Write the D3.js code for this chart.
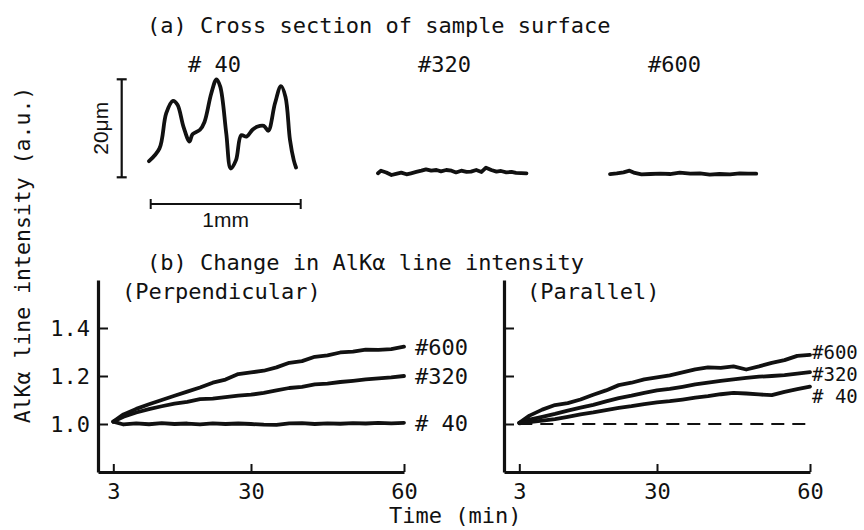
<!DOCTYPE html>
<html>
<head>
<meta charset="utf-8">
<script src="https://cdn.jsdelivr.net/npm/d3@7/dist/d3.min.js"></script>
<style>
  body { margin: 0; background: #fff; }
  svg text { font-family: "DejaVu Sans Mono", monospace; fill: #111; }
</style>
</head>
<body>
<div id="chart"></div>
<script>
// --- 1. DATA ---
// (a) surface profiles: [position (mm), height (um)]
const profile40 = [
    [0.00, 3.3], [0.07, 5.9], [0.115, 13.1], [0.16, 15.6], [0.19, 14.8], [0.23, 10.3],
    [0.27, 7.3], [0.29, 8.8], [0.34, 9.7], [0.37, 11.3], [0.415, 17.1], [0.45, 20.0],
    [0.475, 18.5], [0.515, 9.0], [0.545, 1.8], [0.58, 3.5], [0.615, 8.6], [0.65, 8.3],
    [0.69, 9.7], [0.72, 10.3], [0.765, 10.5], [0.795, 9.5], [0.84, 15.1], [0.88, 18.6],
    [0.91, 16.4], [0.94, 7.6], [0.965, 3.5], [0.98, 2.0]
];
const profile320 = [
    [0.00, 0.82], [0.02, 1.35], [0.055, 0.99], [0.09, 0.47], [0.12, 0.69], [0.155, 0.96],
    [0.19, 0.61], [0.22, 0.82], [0.255, 1.09], [0.29, 1.35], [0.32, 1.63], [0.355, 1.35],
    [0.39, 1.49], [0.42, 1.22], [0.455, 1.49], [0.49, 1.35], [0.52, 0.99], [0.555, 1.35],
    [0.59, 1.09], [0.62, 1.16], [0.655, 1.49], [0.69, 1.09], [0.72, 1.96], [0.755, 1.49],
    [0.79, 1.16], [0.82, 1.29], [0.855, 1.02], [0.89, 1.09], [0.92, 0.89], [0.99, 0.82]
];
const profile600 = [
    [0.00, 0.67], [0.045, 0.82], [0.09, 1.02], [0.13, 1.35], [0.165, 0.88], [0.21, 0.61],
    [0.27, 0.67], [0.335, 0.73], [0.40, 0.67], [0.465, 0.94], [0.535, 0.73], [0.60, 0.82],
    [0.665, 0.54], [0.73, 0.67], [0.80, 0.61], [0.865, 0.82], [0.92, 0.73], [0.975, 0.73]
];
const profileNames = ["# 40", "#320", "#600"];

// (b) Al Ka intensity vs time (min)
const times = [3, 5, 7.5, 10, 12.5, 15, 17.5, 20, 22.5, 25, 27.5, 30,
               32.5, 35, 37.5, 40, 42.5, 45, 47.5, 50, 52.5, 55, 57.5, 60];
const perp600 = [1.010, 1.040, 1.063, 1.082, 1.100, 1.118, 1.135, 1.152, 1.172, 1.185, 1.208, 1.215,
                 1.222, 1.236, 1.255, 1.262, 1.280, 1.286, 1.298, 1.302, 1.310, 1.309, 1.312, 1.322];
const perp320 = [1.010, 1.030, 1.048, 1.062, 1.074, 1.085, 1.092, 1.104, 1.106, 1.112, 1.118, 1.122,
                 1.130, 1.140, 1.150, 1.155, 1.165, 1.168, 1.175, 1.180, 1.186, 1.190, 1.194, 1.200];
const perp40  = [1.010, 0.998, 1.003, 0.999, 1.004, 1.000, 1.002, 0.998, 1.003, 1.000, 1.002, 1.000,
                 0.997, 0.996, 1.003, 1.004, 1.000, 1.003, 1.001, 1.004, 1.002, 1.005, 1.003, 1.005];
const para600 = [1.005, 1.035, 1.060, 1.079, 1.087, 1.102, 1.122, 1.140, 1.162, 1.172, 1.186, 1.194,
                 1.203, 1.215, 1.228, 1.236, 1.234, 1.240, 1.227, 1.240, 1.255, 1.266, 1.284, 1.288];
const para320 = [1.005, 1.018, 1.030, 1.042, 1.056, 1.068, 1.080, 1.094, 1.108, 1.118, 1.130, 1.140,
                 1.146, 1.155, 1.165, 1.172, 1.180, 1.186, 1.192, 1.197, 1.200, 1.204, 1.210, 1.216];
const para40  = [1.003, 1.008, 1.014, 1.020, 1.030, 1.040, 1.048, 1.058, 1.067, 1.074, 1.083, 1.090,
                 1.095, 1.102, 1.110, 1.116, 1.124, 1.130, 1.127, 1.123, 1.120, 1.134, 1.145, 1.156];
const seriesNames = ["#600", "#320", "# 40"];
const xTicks = [3, 30, 60];
const yTicks = [1.0, 1.2, 1.4];
const parallelBase = 1.0;

// --- 2. SETUP ---
const W = 864, H = 530;
const svg = d3.select("#chart").append("svg")
    .attr("width", W)
    .attr("height", H);

const FS = 22;

function addText(x, y, str, opts = {}) {
    return svg.append("text")
        .attr("x", x)
        .attr("y", y)
        .attr("text-anchor", opts.anchor || "start")
        .style("font-size", (opts.size || FS) + "px")
        .text(str);
}

// --- 3. (a) CROSS SECTION ---
addText(147, 33, "(a) Cross section of sample surface");

const profX = d3.scaleLinear().domain([0, 1]).range([0, 150]);
const profY = d3.scaleLinear().domain([0, 20]).range([177.3, 79.3]);

const profileLine = d3.line()
    .x(d => profX(d[0]))
    .y(d => profY(d[1]));

const profiles = [profile40, profile320, profile600];
const profOffsets = [149, 378, 610];
const profLabelX = [188, 418, 648];

profiles.forEach((p, i) => {
    const g = svg.append("g").attr("transform", `translate(${profOffsets[i]},0)`);
    g.append("path")
        .datum(p)
        .attr("fill", "none")
        .attr("stroke", "#111")
        .attr("stroke-width", 3.8)
        .attr("stroke-linejoin", "round")
        .attr("stroke-linecap", "round")
        .attr("d", profileLine.curve(i === 0 ? d3.curveCatmullRom : d3.curveLinear));
    addText(profLabelX[i], 72, profileNames[i]);
});

// scale bars
const vBarX = 121.7;
svg.append("line")
    .attr("x1", vBarX).attr("x2", vBarX)
    .attr("y1", profY(0)).attr("y2", profY(20))
    .attr("stroke", "#111").attr("stroke-width", 2.2);
[0, 20].forEach(v => {
    svg.append("line")
        .attr("x1", vBarX - 5).attr("x2", vBarX + 5)
        .attr("y1", profY(v)).attr("y2", profY(v))
        .attr("stroke", "#111").attr("stroke-width", 2.2);
});
svg.append("text")
    .attr("transform", `translate(${vBarX - 14},${(profY(0) + profY(20)) / 2}) rotate(-90)`)
    .attr("text-anchor", "middle")
    .style("font-family", "'Liberation Sans', Arial, sans-serif")
    .style("font-size", "21px")
    .text("20\u03bcm");

const hBar = svg.append("g").attr("transform", "translate(150.7,204)");
hBar.append("line")
    .attr("x1", profX(0)).attr("x2", profX(1))
    .attr("stroke", "#111").attr("stroke-width", 2.2);
[0, 1].forEach(v => {
    hBar.append("line")
        .attr("x1", profX(v)).attr("x2", profX(v))
        .attr("y1", -5).attr("y2", 5)
        .attr("stroke", "#111").attr("stroke-width", 2);
});
hBar.append("text")
    .attr("x", profX(0.5))
    .attr("y", 23)
    .attr("text-anchor", "middle")
    .style("font-family", "'Liberation Sans', Arial, sans-serif")
    .style("font-size", "21px")
    .text("1mm");

// --- 4. (b) INTENSITY PANELS ---
addText(147, 270, "(b) Change in AlK\u03b1 line intensity");

svg.append("text")
    .attr("transform", "translate(30,255) rotate(-90)")
    .attr("text-anchor", "middle")
    .style("font-size", "21.5px")
    .text("AlK\u03b1 line intensity (a.u.)");

addText(389, 523, "Time (min)");

const xScale = d3.scaleLinear().domain([0, 60]).range([0, 306]);
const yScale = d3.scaleLinear().domain([0.8, 1.6]).range([472, 280]);

const panels = [
    { x0: 98, title: "(Perpendicular)", titleX: 122, data: [perp600, perp320, perp40],
      labels: true, labelDx: 11, labelDy: [0, 0, 0], labelSize: 22 },
    { x0: 504, title: "(Parallel)", titleX: 527, data: [para600, para320, para40],
      labels: false, labelDx: 2, labelDy: [-3, 2, 9.5], labelSize: 19 }
];

const seriesLine = d3.line()
    .x(d => xScale(d[0]))
    .y(d => yScale(d[1]));

panels.forEach((pn, pi) => {
    const g = svg.append("g").attr("transform", `translate(${pn.x0},0)`);

    // axes
    const xAxis = d3.axisBottom(xScale)
        .tickValues(xTicks)
        .tickSizeInner(-8)
        .tickSizeOuter(0)
        .tickPadding(11);
    const gx = g.append("g")
        .attr("transform", `translate(0,${yScale.range()[0]})`)
        .call(xAxis);

    const yAxis = d3.axisLeft(yScale)
        .tickValues(yTicks)
        .tickSizeInner(-10)
        .tickSizeOuter(0)
        .tickPadding(8)
        .tickFormat(pn.labels ? d3.format(".1f") : "");
    const gy = g.append("g").call(yAxis);

    [gx, gy].forEach(a => {
        a.select(".domain").attr("stroke", "#111").attr("stroke-width", 3.2);
        a.selectAll(".tick line").attr("stroke", "#111").attr("stroke-width", 2);
        a.selectAll(".tick text")
            .attr("fill", "#111")
            .style("font-family", "'DejaVu Sans Mono', monospace")
            .style("font-size", FS + "px");
    });

    // title
    svg.append("text")
        .attr("x", pn.titleX)
        .attr("y", 299)
        .style("font-size", FS + "px")
        .text(pn.title);

    // dashed reference line (parallel only)
    if (pi === 1) {
        g.append("path")
            .datum([[xTicks[0], parallelBase], [xTicks[2], parallelBase]])
            .attr("fill", "none")
            .attr("stroke", "#111")
            .attr("stroke-width", 2.2)
            .attr("stroke-dasharray", "13,8")
            .attr("d", seriesLine);
    }

    // series
    pn.data.forEach((vals, si) => {
        const pts = times.map((t, k) => [t, vals[k]]);
        g.append("path")
            .datum(pts)
            .attr("fill", "none")
            .attr("stroke", "#111")
            .attr("stroke-width", 3.8)
            .attr("stroke-linejoin", "round")
            .attr("stroke-linecap", "round")
            .attr("d", seriesLine);

        const last = pts[pts.length - 1];
        g.append("text")
            .attr("x", xScale(last[0]) + pn.labelDx)
            .attr("y", yScale(last[1]) + pn.labelDy[si])
            .attr("dy", "0.36em")
            .style("font-size", pn.labelSize + "px")
            .text(seriesNames[si]);
    });
});
</script>
</body>
</html>
